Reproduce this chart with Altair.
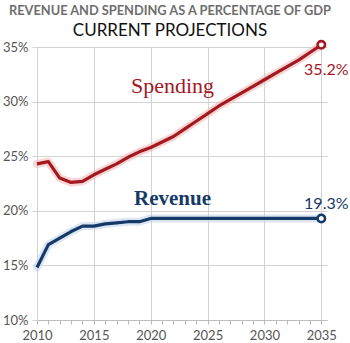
import altair as alt
import pandas as pd

years = list(range(2010, 2036))
spending = [24.3, 24.5, 23.0, 22.6, 22.7, 23.3, 23.8, 24.3, 24.9, 25.4,
            25.8, 26.3, 26.8, 27.5, 28.2, 28.9, 29.6, 30.2, 30.8, 31.4,
            32.0, 32.6, 33.2, 33.8, 34.5, 35.2]
revenue = [14.8, 16.9, 17.5, 18.1, 18.6, 18.6, 18.8, 18.9, 19.0, 19.0,
           19.3, 19.3, 19.3, 19.3, 19.3, 19.3, 19.3, 19.3, 19.3, 19.3,
           19.3, 19.3, 19.3, 19.3, 19.3, 19.3]
series_names = ["Spending", "Revenue"]
y_ticks = [10, 15, 20, 25, 30, 35]

rows = []
for name, vals in zip(series_names, [spending, revenue]):
    for yr, v in zip(years, vals):
        rows.append({"year": yr, "value": v, "series": name})
df = pd.DataFrame(rows)

RED = "#a3191f"
NAVY = "#163a68"
GLOW = {"Spending": "#f2b9b9", "Revenue": "#c4d6ea"}
MAIN = {"Spending": RED, "Revenue": NAVY}
FONT = "Lato"

x = alt.X("year:Q",
          scale=alt.Scale(domain=[2010, 2035.5], nice=False, zero=False),
          axis=alt.Axis(values=years, title=None, format="d",
                        labelExpr="datum.value % 5 === 0 ? datum.value : ''",
                        gridOpacity={"condition": {"test": "datum.value % 5 === 0", "value": 1}, "value": 0},
                        gridColor="#d2d2d2", tickColor="#b5b5b5", tickSize=4,
                        domainColor="#bcbcbc", labelFont=FONT, labelFontSize=13,
                        labelColor="#555555", labelPadding=5, labelFlush=False))
y = alt.Y("value:Q",
          scale=alt.Scale(domain=[10, 35], nice=False, zero=False),
          axis=alt.Axis(values=y_ticks, title=None,
                        labelExpr="datum.value + '%'",
                        gridColor="#d2d2d2", tickColor="#d2d2d2", tickSize=5,
                        domain=False, labelFont=FONT, labelFontSize=13,
                        labelColor="#555555", labelPadding=4))

base = alt.Chart(df)

layers = []
for name in series_names:
    sub = base.transform_filter(alt.datum.series == name)
    layers.append(sub.mark_line(strokeWidth=8, color=GLOW[name], opacity=0.6,
                                strokeCap="round", strokeJoin="round").encode(x=x, y=y))
for name in series_names:
    sub = base.transform_filter(alt.datum.series == name)
    layers.append(sub.mark_line(strokeWidth=3.2, color=MAIN[name], strokeJoin="round").encode(x=x, y=y))
    layers.append(sub.transform_filter(alt.datum.year == 2035).mark_point(
        filled=True, fill="white", stroke=MAIN[name], size=55, strokeWidth=2.6, opacity=1).encode(x=x, y=y))

sp_end = base.transform_filter((alt.datum.year == 2035) & (alt.datum.series == "Spending")).transform_calculate(
    lbl="format(datum.value, '.1f') + '%'").mark_text(
    font=FONT, fontSize=16, color=RED, dx=5, dy=30, baseline="alphabetic").encode(
    x=x, y=y, text="lbl:N")

rv_end = base.transform_filter((alt.datum.year == 2035) & (alt.datum.series == "Revenue")).transform_calculate(
    lbl="format(datum.value, '.1f') + '%'").mark_text(
    font=FONT, fontSize=16, color=NAVY, dx=5, dy=-9, baseline="alphabetic").encode(
    x=x, y=y, text="lbl:N")

sp_name = base.transform_filter((alt.datum.year == 2022) & (alt.datum.series == "Spending")).mark_text(
    font="Liberation Serif", fontSize=22, color=RED, dx=-1, dy=-44, baseline="alphabetic").encode(
    x=x, y=y, text="series:N")

rv_name = base.transform_filter((alt.datum.year == 2022) & (alt.datum.series == "Revenue")).mark_text(
    font="Liberation Serif", fontSize=21, fontWeight="bold", color=NAVY, dx=-1, dy=-13, baseline="alphabetic").encode(
    x=x, y=y, text="series:N")

chart = alt.layer(*layers, sp_end, rv_end, sp_name, rv_name).properties(
    width=290, height=273,
    padding={"left": 37, "top": 47, "right": 23, "bottom": 23},
    autosize=alt.AutoSizeParams(type="none"),
    title=alt.TitleParams(
        text="REVENUE AND SPENDING AS A PERCENTAGE OF GDP",
        subtitle="CURRENT PROJECTIONS",
        anchor="middle", dx=-12, offset=-3,
        font=FONT, fontSize=12.8, fontWeight="bold", color="#6e6e6e",
        subtitleFont=FONT, subtitleFontSize=17, subtitleColor="#111111",
        subtitlePadding=5)
).configure_view(stroke=None)

chart.save("out.html", embed_options={"renderer": "svg", "actions": False})
